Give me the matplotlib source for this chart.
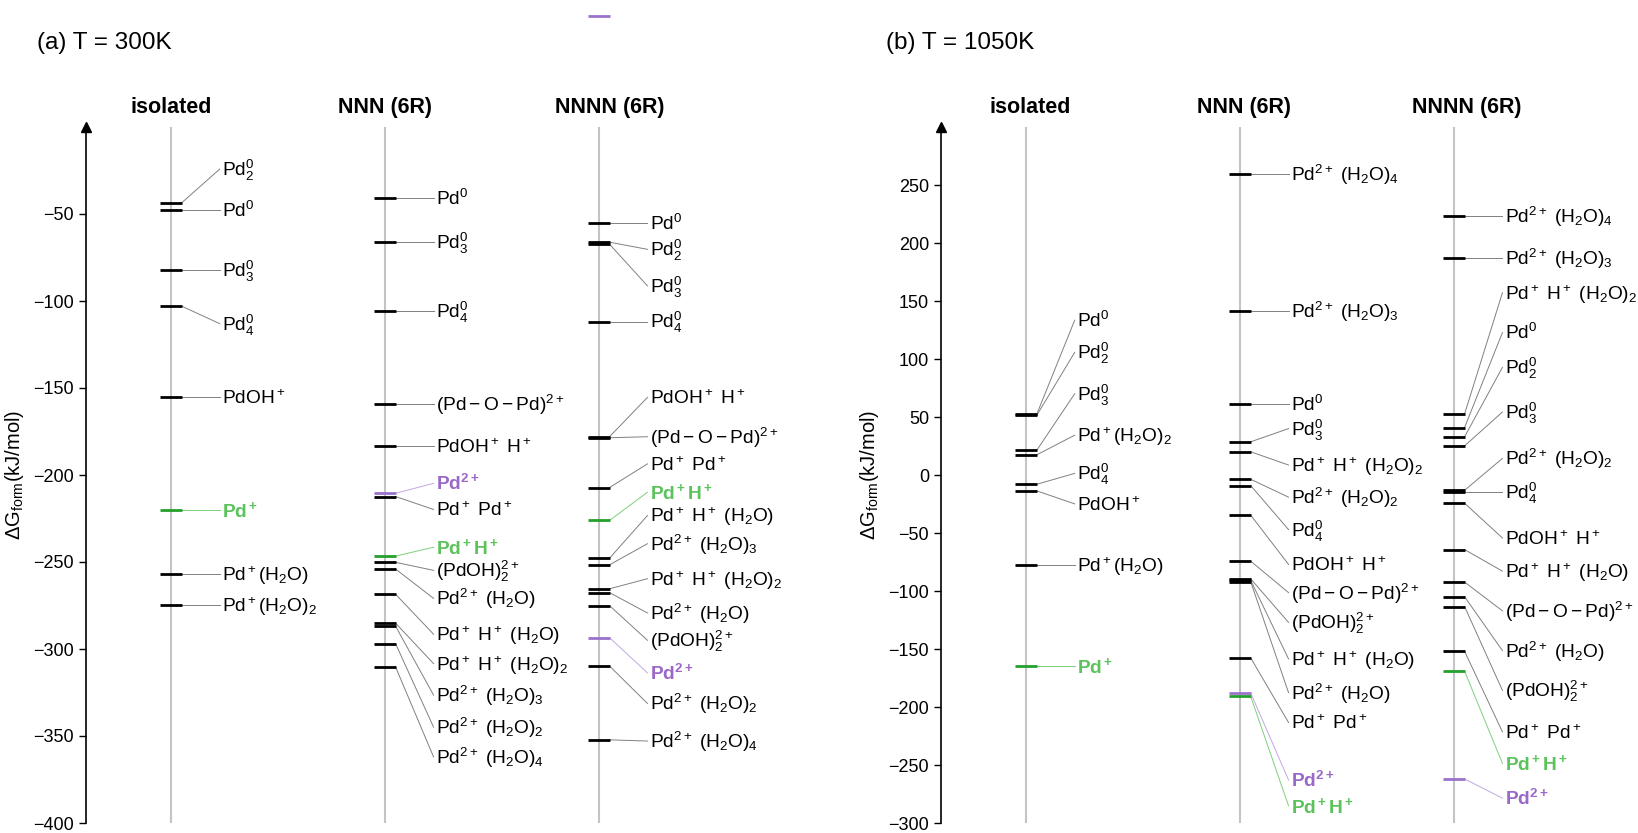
import matplotlib
matplotlib.use('Agg')
import matplotlib.pyplot as plt
from matplotlib.transforms import blended_transform_factory

plt.rcParams['font.family'] = ['Liberation Sans', 'DejaVu Sans']
plt.rcParams['mathtext.fontset'] = 'custom'
plt.rcParams['mathtext.rm'] = 'Liberation Sans'
plt.rcParams['mathtext.it'] = 'Liberation Sans:italic'
plt.rcParams['mathtext.bf'] = 'Liberation Sans:bold'
plt.rcParams['mathtext.default'] = 'regular'

# ---- data: (a) T = 300K ----
iso300_names = ['Pd2_0', 'Pd_0', 'Pd3_0', 'Pd4_0', 'PdOH+', 'Pd+', 'Pd+(H2O)', 'Pd+(H2O)2']
iso300_G = [-43.5, -47.7, -82, -103, -155, -220, -257, -274.7]
iso300_lab = [-24.2, -47.7, -82, -113, -155, -220, -257, -274.7]

nnn300_names = ['Pd_0', 'Pd3_0', 'Pd4_0', 'PdOPd', 'PdOH+H+', 'Pd2+', 'Pd+Pd+', 'Pd+H+',
                '(PdOH)2', 'Pd2+(H2O)', 'Pd+H+(H2O)', 'Pd+H+(H2O)2', 'Pd2+(H2O)3',
                'Pd2+(H2O)2', 'Pd2+(H2O)4']
nnn300_G = [-40.6, -66.3, -106, -159.4, -183.5, -210.5, -212.4, -246.6,
            -250.2, -254.1, -268.6, -285.2, -287, -297.1, -310.5]
nnn300_lab = [-40.6, -66.3, -106, -159.4, -183.5, -204.8, -219.8, -241.5,
              -254.8, -270.9, -291.5, -308.4, -326.5, -344.9, -362]

nnnn300_names = ['Pd_0', 'Pd2_0', 'Pd3_0', 'Pd4_0', 'PdOH+H+', 'PdOPd', 'Pd+Pd+', 'Pd+H+',
                 'Pd+H+(H2O)', 'Pd2+(H2O)3', 'Pd+H+(H2O)2', 'Pd2+(H2O)', '(PdOH)2', 'Pd2+',
                 'Pd2+(H2O)2', 'Pd2+(H2O)4', 'Pd2+']
nnnn300_G = [-55.2, -66.2, -67.4, -111.8, -178.0, -178.6, -207.2, -226.1,
             -247.8, -251.6, -265.4, -267.6, -275.1, -293.5, -309.8, -352.2, 64]
nnnn300_lab = [-55.2, -70.3, -91.3, -111.8, -155.4, -178, -193.6, -209.9,
               -223.3, -239.5, -259.6, -279.3, -295, -313.7, -331.3, -352.9, None]

# ---- data: (b) T = 1050K ----
iso1050_names = ['Pd_0', 'Pd2_0', 'Pd3_0', 'Pd+(H2O)2', 'Pd4_0', 'PdOH+', 'Pd+(H2O)', 'Pd+']
iso1050_G = [52.5, 51.5, 21.4, 17.4, -8, -13.7, -77.4, -164.3]
iso1050_lab = [133.4, 105.7, 70, 34.3, 1.4, -24.9, -77.4, -164.3]

nnn1050_names = ['Pd2+(H2O)4', 'Pd2+(H2O)3', 'Pd_0', 'Pd3_0', 'Pd+H+(H2O)2', 'Pd2+(H2O)2',
                 'Pd4_0', 'PdOH+H+', 'PdOPd', '(PdOH)2', 'Pd+H+(H2O)', 'Pd2+(H2O)',
                 'Pd+Pd+', 'Pd2+', 'Pd+H+']
nnn1050_G = [259.4, 141.4, 60.9, 28.6, 20, -3.7, -9.1, -34.6, -74.3, -89.5, -90.8, -92,
             -157.7, -188, -190.9]
nnn1050_lab = [259.4, 141.4, 60.9, 40, 8.6, -19.1, -47.1, -77.1, -101.4, -127.1, -158.6,
               -187.7, -213.4, -262.9, -285.2]

nnnn1050_names = ['Pd2+(H2O)4', 'Pd2+(H2O)3', 'Pd+H+(H2O)2', 'Pd_0', 'Pd2_0', 'Pd3_0',
                  'Pd2+(H2O)2', 'Pd4_0', 'PdOH+H+', 'Pd+H+(H2O)', 'PdOPd', 'Pd2+(H2O)',
                  '(PdOH)2', 'Pd+Pd+', 'Pd+H+', 'Pd2+']
nnnn1050_G = [223.4, 187.1, 52.6, 40.9, 32.9, 25.1, -13.2, -14.3, -24.3, -64.3, -92.3,
              -104.9, -113.4, -152, -169.1, -262]
nnnn1050_lab = [223.4, 187.1, 157.1, 122.8, 92.8, 54.3, 14.3, -14.3, -54.3, -82.9, -117.1,
                -151.4, -185.7, -221.4, -248.6, -278.6]

headers = ['isolated', 'NNN (6R)', 'NNNN (6R)']

LABELS = {
    'Pd_0': r'$Pd^0$',
    'Pd2_0': r'$Pd_2^0$',
    'Pd3_0': r'$Pd_3^0$',
    'Pd4_0': r'$Pd_4^0$',
    'PdOH+': r'$PdOH^+$',
    'Pd+': r'$\mathbf{Pd^+}$',
    'Pd+(H2O)': r'$Pd^+(H_2O)$',
    'Pd+(H2O)2': r'$Pd^+(H_2O)_2$',
    'PdOPd': r'$(Pd - O - Pd)^{2+}$',
    'PdOH+H+': r'$PdOH^+\ H^+$',
    'Pd2+': r'$\mathbf{Pd^{2+}}$',
    'Pd+Pd+': r'$Pd^+\ Pd^+$',
    'Pd+H+': r'$\mathbf{Pd^+H^+}$',
    '(PdOH)2': r'$(PdOH)_2^{2+}$',
    'Pd2+(H2O)': r'$Pd^{2+}\ (H_2O)$',
    'Pd2+(H2O)2': r'$Pd^{2+}\ (H_2O)_2$',
    'Pd2+(H2O)3': r'$Pd^{2+}\ (H_2O)_3$',
    'Pd2+(H2O)4': r'$Pd^{2+}\ (H_2O)_4$',
    'Pd+H+(H2O)': r'$Pd^+\ H^+\ (H_2O)$',
    'Pd+H+(H2O)2': r'$Pd^+\ H^+\ (H_2O)_2$',
}

GREEN_LVL, GREEN_TXT, GREEN_CON = '#24a02c', '#5cc35c', '#7fcf7f'
PURP_LVL, PURP_TXT, PURP_CON = '#9a72cc', '#9a68c8', '#c0a8e0'


def colors_for(name):
    if name in ('Pd+', 'Pd+H+'):
        return GREEN_LVL, GREEN_TXT, GREEN_CON
    if name == 'Pd2+':
        return PURP_LVL, PURP_TXT, PURP_CON
    return 'black', 'black', '#808080'


def draw_column(ax, x, names, G, lab):
    hw = 0.051
    for name, g, ly in zip(names, G, lab):
        lc, tc, cc = colors_for(name)
        ax.plot([x - hw, x + hw], [g, g], color=lc, lw=2.0, solid_capstyle='butt',
                clip_on=False, zorder=3)
        if ly is None:
            continue
        ax.plot([x + hw, x + 0.228], [g, ly], color=cc, lw=0.7, zorder=2)
        ax.annotate(LABELS[name], xy=(x + 0.238, ly), xytext=(0, -5),
                    textcoords='offset points', va='baseline', ha='left',
                    fontsize=13.8, color=tc, annotation_clip=False)


def setup(ax, ylim, ticks, header_x):
    ax.set_xlim(0.603, 3.6)
    ax.set_ylim(ylim)
    for s in ('top', 'right', 'bottom'):
        ax.spines[s].set_visible(False)
    ax.spines['left'].set_linewidth(1.2)
    ax.set_xticks([])
    ax.set_yticks(ticks)
    ax.tick_params(axis='y', labelsize=13, length=5, width=1.0)
    ax.plot(0, 1, marker='^', color='black', ms=7, transform=ax.transAxes, clip_on=False)
    for c in (1, 2, 3):
        ax.axvline(c, color='#c4c4c4', lw=1.5, zorder=0)
    trans = blended_transform_factory(ax.transData, ax.transAxes)
    for h, hx in zip(headers, header_x):
        ax.annotate(h, xy=(hx, 1), xycoords=trans, xytext=(0, 14), textcoords='offset points',
                    ha='center', va='center', fontsize=15.5, fontweight='bold',
                    annotation_clip=False)
    ax.set_ylabel(r'$\Delta G_{form}$(kJ/mol)', fontsize=14.5, labelpad=5)


fig = plt.figure(figsize=(16.38, 8.33), dpi=100)
ax1 = fig.add_axes([86 / 1638, 10 / 833, 641 / 1638, 696 / 833])
ax2 = fig.add_axes([941 / 1638, 10 / 833, 641 / 1638, 696 / 833])

setup(ax1, (-400, 0), list(range(-50, -401, -50)), [1.0, 2.0, 3.05])
setup(ax2, (-300, 300), list(range(250, -301, -50)), [1.02, 2.02, 3.06])

draw_column(ax1, 1, iso300_names, iso300_G, iso300_lab)
draw_column(ax1, 2, nnn300_names, nnn300_G, nnn300_lab)
draw_column(ax1, 3, nnnn300_names, nnnn300_G, nnnn300_lab)

draw_column(ax2, 1, iso1050_names, iso1050_G, iso1050_lab)
draw_column(ax2, 2, nnn1050_names, nnn1050_G, nnn1050_lab)
draw_column(ax2, 3, nnnn1050_names, nnnn1050_G, nnnn1050_lab)

fig.text(37 / 1638, 1 - 43 / 833, '(a) T = 300K', fontsize=17.5, va='center')
fig.text(886 / 1638, 1 - 43 / 833, '(b) T = 1050K', fontsize=17.5, va='center')

fig.savefig('out.png', dpi=100)
